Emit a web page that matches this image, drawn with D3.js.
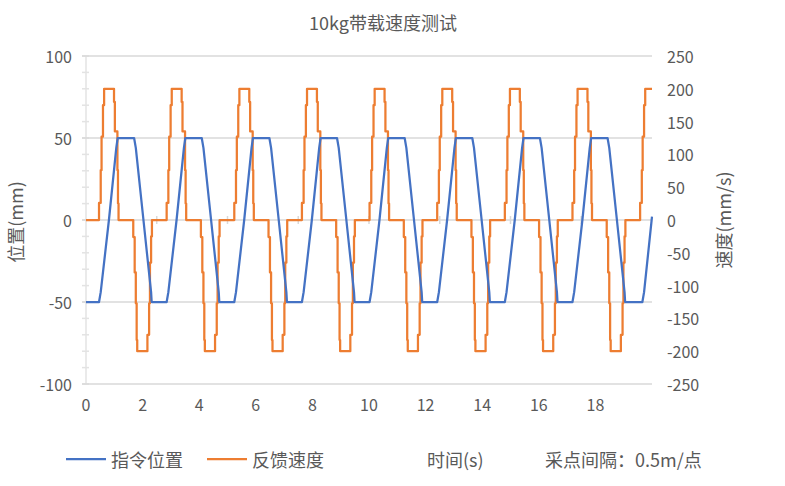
<!DOCTYPE html>
<html>
<head>
<meta charset="utf-8">
<script src="https://cdn.jsdelivr.net/npm/d3@7/dist/d3.min.js"></script>
<style>
html,body{margin:0;padding:0;background:#fff;}
svg{display:block;font-family:"Noto Sans CJK SC","Noto Sans",sans-serif;}
</style>
</head>
<body>
<svg id="chart" width="785" height="486"></svg>
<script>
const title = "10kg带载速度测试";
const leftTicks = [-100, -50, 0, 50, 100];
const rightTicks = [-250, -200, -150, -100, -50, 0, 50, 100, 150, 200, 250];
const xTicks = [0, 2, 4, 6, 8, 10, 12, 14, 16, 18];
const seriesNames = ["指令位置", "反馈速度"];
const xTitle = "时间(s)";
const note = "采点间隔：0.5m/点";
const leftTitle = "位置(mm)";
const rightTitle = "速度(mm/s)";

// 指令位置 (mm): time (s) vertices
const posT = [0, 0.46, 0.52, 0.81, 1.07, 1.12, 1.70, 1.76, 2.03, 2.30, 2.32,
  2.85, 2.91, 3.20, 3.46, 3.51, 4.09, 4.15, 4.42, 4.69, 4.71,
  5.24, 5.30, 5.59, 5.85, 5.90, 6.48, 6.54, 6.81, 7.08, 7.10,
  7.63, 7.69, 7.98, 8.24, 8.29, 8.87, 8.93, 9.20, 9.47, 9.49,
  10.02, 10.08, 10.37, 10.63, 10.68, 11.26, 11.32, 11.59, 11.86, 11.88,
  12.41, 12.47, 12.76, 13.02, 13.07, 13.65, 13.71, 13.98, 14.25, 14.27,
  14.80, 14.86, 15.15, 15.41, 15.46, 16.04, 16.10, 16.37, 16.64, 16.66,
  17.19, 17.25, 17.54, 17.80, 17.85, 18.43, 18.49, 18.76, 19.03, 19.05,
  19.66, 19.72, 20.0];
const posV = [-50, -50, -44, 0, 44, 50, 50, 44, 0, -44, -50,
  -50, -44, 0, 44, 50, 50, 44, 0, -44, -50,
  -50, -44, 0, 44, 50, 50, 44, 0, -44, -50,
  -50, -44, 0, 44, 50, 50, 44, 0, -44, -50,
  -50, -44, 0, 44, 50, 50, 44, 0, -44, -50,
  -50, -44, 0, 44, 50, 50, 44, 0, -44, -50,
  -50, -44, 0, 44, 50, 50, 44, 0, -44, -50,
  -50, -44, 0, 44, 50, 50, 44, 0, -44, -50,
  -50, -44, 2];

// 反馈速度 (mm/s): sample times (s) where value changes (stepped)
const spdT = [0,
  0.46, 0.52, 0.55, 0.60, 0.64, 0.99, 1.02, 1.11, 1.13, 1.15, 1.67, 1.72, 1.76, 1.79, 1.81, 2.17, 2.23, 2.26, 2.30, 2.33,
  2.85, 2.91, 2.94, 2.99, 3.03, 3.38, 3.41, 3.50, 3.52, 3.54, 4.06, 4.11, 4.15, 4.18, 4.20, 4.56, 4.62, 4.65, 4.69, 4.72,
  5.24, 5.30, 5.33, 5.38, 5.42, 5.77, 5.80, 5.89, 5.91, 5.93, 6.45, 6.50, 6.54, 6.57, 6.59, 6.95, 7.01, 7.04, 7.08, 7.11,
  7.63, 7.69, 7.72, 7.77, 7.81, 8.16, 8.19, 8.28, 8.30, 8.32, 8.84, 8.89, 8.93, 8.96, 8.98, 9.34, 9.40, 9.43, 9.47, 9.50,
  10.02, 10.08, 10.11, 10.16, 10.20, 10.55, 10.58, 10.67, 10.69, 10.71, 11.23, 11.28, 11.32, 11.35, 11.37, 11.73, 11.79, 11.82, 11.86, 11.89,
  12.41, 12.47, 12.50, 12.55, 12.59, 12.94, 12.97, 13.06, 13.08, 13.10, 13.62, 13.67, 13.71, 13.74, 13.76, 14.12, 14.18, 14.21, 14.25, 14.28,
  14.80, 14.86, 14.89, 14.94, 14.98, 15.33, 15.36, 15.45, 15.47, 15.49, 16.01, 16.06, 16.10, 16.13, 16.15, 16.51, 16.57, 16.60, 16.64, 16.67,
  17.19, 17.25, 17.28, 17.33, 17.37, 17.72, 17.75, 17.84, 17.86, 17.88, 18.40, 18.45, 18.49, 18.52, 18.54, 18.90, 18.96, 18.99, 19.03, 19.06,
  19.58, 19.64, 19.67, 19.72, 19.76, 20.0];
const spdV = [0,
  26, 76, 127, 175, 200, 180, 135, 76, 25, 0, -26, -80, -127, -183, -200, -175, -127, -65, -25, 0,
  26, 76, 127, 175, 200, 180, 135, 76, 25, 0, -26, -80, -127, -183, -200, -175, -127, -65, -25, 0,
  26, 76, 127, 175, 200, 180, 135, 76, 25, 0, -26, -80, -127, -183, -200, -175, -127, -65, -25, 0,
  26, 76, 127, 175, 200, 180, 135, 76, 25, 0, -26, -80, -127, -183, -200, -175, -127, -65, -25, 0,
  26, 76, 127, 175, 200, 180, 135, 76, 25, 0, -26, -80, -127, -183, -200, -175, -127, -65, -25, 0,
  26, 76, 127, 175, 200, 180, 135, 76, 25, 0, -26, -80, -127, -183, -200, -175, -127, -65, -25, 0,
  26, 76, 127, 175, 200, 180, 135, 76, 25, 0, -26, -80, -127, -183, -200, -175, -127, -65, -25, 0,
  26, 76, 127, 175, 200, 180, 135, 76, 25, 0, -26, -80, -127, -183, -200, -175, -127, -65, -25, 0,
  26, 76, 127, 175, 200, 200];

const minorStep = 10;
const xTickMarks = [2.5, 5, 7.5, 10, 12.5, 15, 17.5];

const colors = ["#4472C4", "#ED7D31"];
const textColor = "#595959";
const gridColor = "#d9d9d9";

const svg = d3.select("#chart");
const x = d3.scaleLinear().domain([0, 20]).range([86, 652]);
const yL = d3.scaleLinear().domain([-100, 100]).range([384, 56]);
const yR = d3.scaleLinear().domain([-250, 250]).range([384, 56]);

// title
svg.append("text").attr("x", 383).attr("y", 22).attr("text-anchor", "middle")
  .attr("dominant-baseline", "central").attr("font-size", 18).attr("fill", textColor).text(title);

// left axis line + minor ticks
const minorVals = d3.range(-100, 100 + 0.001, minorStep);
svg.append("line").attr("x1", x(0)).attr("x2", x(0)).attr("y1", yL(100)).attr("y2", yL(-100))
  .attr("stroke", "#e3e3e3").attr("stroke-width", 1.5);
svg.selectAll(".minor").data(minorVals).join("line")
  .attr("x1", x(0) - 4).attr("x2", x(0) + 3)
  .attr("y1", d => yL(d)).attr("y2", d => yL(d))
  .attr("stroke", "#e3e3e3").attr("stroke-width", 1.5);

// gridlines
svg.selectAll(".grid").data(leftTicks).join("line")
  .attr("x1", x(0) - 4).attr("x2", x(20))
  .attr("y1", d => yL(d)).attr("y2", d => yL(d))
  .attr("stroke", gridColor).attr("stroke-width", 1.5);

// x tick marks on zero line
svg.selectAll(".xt").data(xTickMarks).join("line")
  .attr("x1", d => x(d)).attr("x2", d => x(d))
  .attr("y1", yL(0) - 4).attr("y2", yL(0) + 4)
  .attr("stroke", gridColor).attr("stroke-width", 1.5);

// left tick labels
svg.selectAll(".ll").data(leftTicks).join("text")
  .attr("x", 72).attr("y", d => yL(d)).attr("text-anchor", "end")
  .attr("dominant-baseline", "central").attr("font-size", 16).attr("fill", textColor)
  .text(d => d);
// right tick labels
svg.selectAll(".rl").data(rightTicks).join("text")
  .attr("x", 667).attr("y", d => yR(d)).attr("text-anchor", "start")
  .attr("dominant-baseline", "central").attr("font-size", 16).attr("fill", textColor)
  .text(d => d);
// x tick labels
svg.selectAll(".xl").data(xTicks).join("text")
  .attr("x", d => x(d)).attr("y", 404).attr("text-anchor", "middle")
  .attr("dominant-baseline", "central").attr("font-size", 16).attr("fill", textColor)
  .text(d => d);

// axis titles
svg.append("text").attr("transform", `translate(15,222) rotate(-90)`)
  .attr("text-anchor", "middle").attr("dominant-baseline", "central")
  .attr("font-size", 18).attr("fill", textColor).text(leftTitle);
svg.append("text").attr("transform", `translate(723,220) rotate(-90)`)
  .attr("text-anchor", "middle").attr("dominant-baseline", "central")
  .attr("font-size", 18).attr("fill", textColor).text(rightTitle);

// series
const posData = posT.map((t, i) => [t, posV[i]]);
const spdData = spdT.map((t, i) => [t, spdV[i]]);
svg.append("path").datum(spdData)
  .attr("d", d3.line().x(d => x(d[0])).y(d => yR(d[1])).curve(d3.curveStepAfter))
  .attr("fill", "none").attr("stroke", colors[1]).attr("stroke-width", 2.25).attr("stroke-linejoin", "round");
svg.append("path").datum(posData)
  .attr("d", d3.line().x(d => x(d[0])).y(d => yL(d[1])))
  .attr("fill", "none").attr("stroke", colors[0]).attr("stroke-width", 2.25).attr("stroke-linejoin", "round");

// legend
const legX = [66, 207];
seriesNames.forEach((n, i) => {
  svg.append("line").attr("x1", legX[i]).attr("x2", legX[i] + 40).attr("y1", 459).attr("y2", 459)
    .attr("stroke", colors[i]).attr("stroke-width", 2.25);
  svg.append("text").attr("x", legX[i] + 45).attr("y", 459).attr("dominant-baseline", "central")
    .attr("font-size", 18).attr("fill", textColor).text(n);
});
svg.append("text").attr("x", 427).attr("y", 459).attr("dominant-baseline", "central")
  .attr("font-size", 18).attr("fill", textColor).text(xTitle);
svg.append("text").attr("x", 545).attr("y", 459).attr("dominant-baseline", "central")
  .attr("font-size", 18).attr("fill", textColor).text(note);
</script>
</body>
</html>
